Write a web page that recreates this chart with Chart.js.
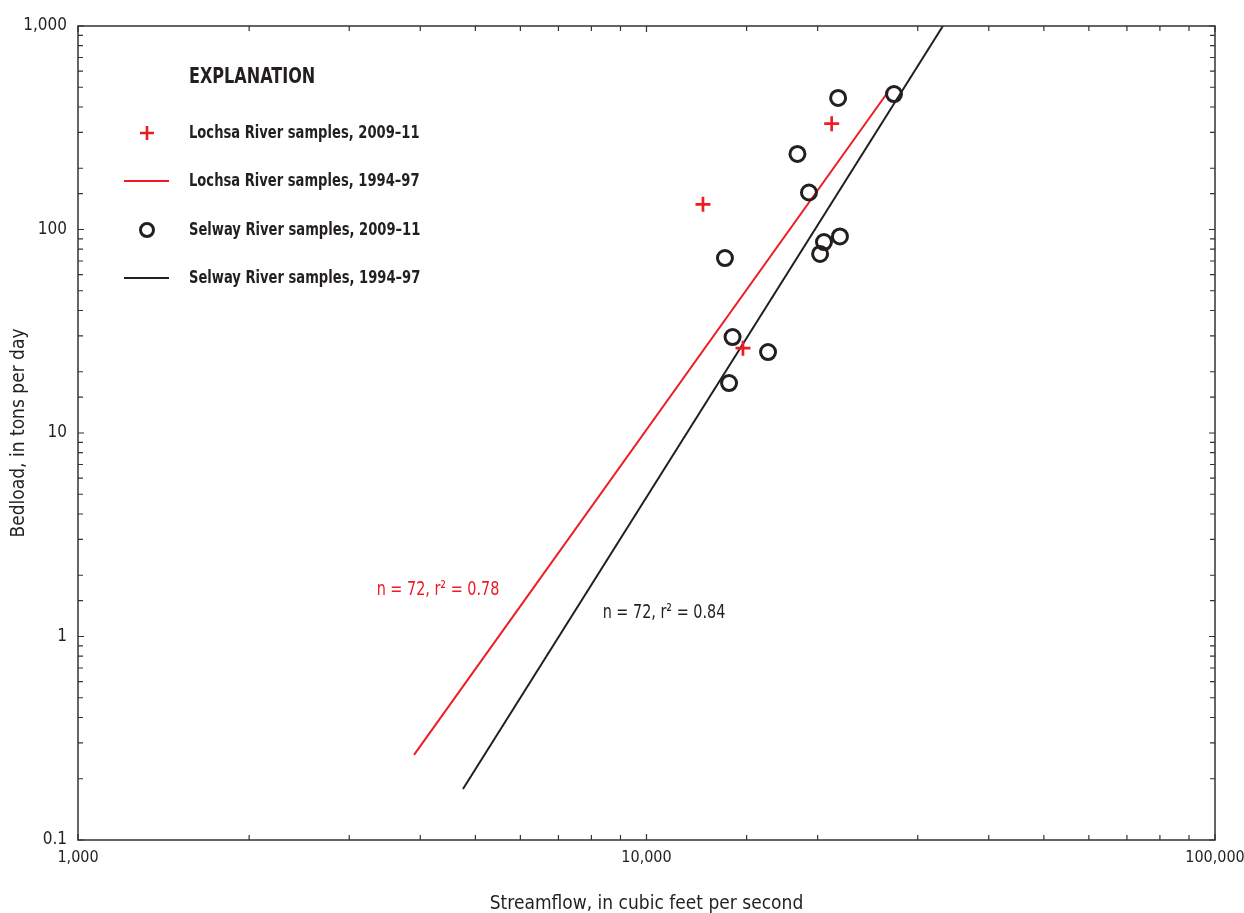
<!DOCTYPE html>
<html>
<head>
<meta charset="utf-8">
<script src="https://cdn.jsdelivr.net/npm/chart.js@4"></script>
<style>
  html, body { margin: 0; padding: 0; background: #fff; }
  #wrap { width: 1244px; height: 913px; }
</style>
</head>
<body>
<div id="wrap"><canvas id="chart" width="1244" height="913"></canvas></div>
<script>
// Data
const lochsaFlow = [21170, 12570, 14780];
const lochsaLoad = [331, 133, 26.1];
const selwayFlow = [27250, 21730, 18430, 19310, 20520, 21890, 20200, 13740, 14170, 16360, 13970];
const selwayLoad = [463, 443, 235, 152, 86.8, 92.4, 75.8, 72.4, 29.6, 25.0, 17.6];
// regression lines, 1994-97 (end points)
const lochsaFitFlow = [3900, 26590];
const lochsaFitLoad = [0.262, 474];
const selwayFitFlow = [4755, 33220];
const selwayFitLoad = [0.178, 1000];

const xTicks = [1000, 10000, 100000];
const yTicks = [0.1, 1, 10, 100, 1000];

const notes = [
  { text: "n = 72, r\u00B2 = 0.78", x: 4298, y: 1.69, color: "#ed1c24" },
  { text: "n = 72, r\u00B2 = 0.84", x: 10735, y: 1.305, color: "#231f20" },
];

const RED = "#ed1c24";
const BLACK = "#231f20";
const FONT = "'Liberation Sans Narrow', 'DejaVu Sans Condensed', sans-serif";

const toPts = (xs, ys) => xs.map((x, i) => ({ x: x, y: ys[i] }));
const isDecade = (v) => Math.abs(Math.log10(v) - Math.round(Math.log10(v))) < 1e-9;
const fmt = (v) => (v < 1 ? String(v) : v.toLocaleString("en-US"));

// condensed text: squeeze horizontally like the original type
function narrowText(ctx, str, x, y, sx, align) {
  ctx.save();
  ctx.translate(x, y);
  ctx.scale(sx, 1);
  ctx.textAlign = align || "left";
  ctx.fillText(str, 0, 0);
  ctx.restore();
}

// frame + inward ticks on all four sides
const framePlugin = {
  id: "frame",
  afterDraw(chart) {
    const { ctx, chartArea: a, scales } = chart;
    ctx.save();
    ctx.strokeStyle = "#333";
    ctx.lineWidth = 1.5;
    ctx.strokeRect(a.left, a.top, a.right - a.left, a.bottom - a.top);
    ctx.lineWidth = 1.2;
    ctx.beginPath();
    for (const t of scales.x.ticks) {
      const px = scales.x.getPixelForValue(t.value);
      const len = isDecade(t.value) ? 6 : 5;
      ctx.moveTo(px, a.bottom); ctx.lineTo(px, a.bottom - len);
      ctx.moveTo(px, a.top); ctx.lineTo(px, a.top + len);
    }
    for (const t of scales.y.ticks) {
      const py = scales.y.getPixelForValue(t.value);
      const len = isDecade(t.value) ? 6 : 5;
      ctx.moveTo(a.left, py); ctx.lineTo(a.left + len, py);
      ctx.moveTo(a.right, py); ctx.lineTo(a.right - len, py);
    }
    ctx.stroke();
    ctx.restore();
  },
};

// regression notes
const notePlugin = {
  id: "notes",
  afterDatasetsDraw(chart) {
    const { ctx, scales } = chart;
    ctx.save();
    ctx.font = "20px " + FONT;
    ctx.textBaseline = "middle";
    for (const n of notes) {
      ctx.fillStyle = n.color;
      narrowText(ctx, n.text, scales.x.getPixelForValue(n.x), scales.y.getPixelForValue(n.y), 0.8, "center");
    }
    ctx.restore();
  },
};

// the EXPLANATION box
const explanationPlugin = {
  id: "explanation",
  afterDraw(chart) {
    const { ctx, chartArea: a } = chart;
    const textX = a.left + 111;
    const symX = a.left + 69;
    ctx.save();
    ctx.fillStyle = BLACK;
    ctx.textBaseline = "middle";
    ctx.font = "bold 21px " + FONT;
    narrowText(ctx, "EXPLANATION", textX, a.top + 52, 0.85);
    ctx.font = "bold 18px " + FONT;
    const rows = [
      { label: "Lochsa River samples, 2009\u201311", kind: "cross", y: 107 },
      { label: "Lochsa River samples, 1994\u201397", kind: "redline", y: 155 },
      { label: "Selway River samples, 2009\u201311", kind: "circle", y: 204 },
      { label: "Selway River samples, 1994\u201397", kind: "blackline", y: 252 },
    ];
    for (const r of rows) {
      const y = a.top + r.y;
      ctx.fillStyle = BLACK;
      narrowText(ctx, r.label, textX, y, 0.81);
      ctx.beginPath();
      if (r.kind === "cross") {
        ctx.strokeStyle = RED; ctx.lineWidth = 2.6;
        ctx.moveTo(symX - 7, y); ctx.lineTo(symX + 7, y);
        ctx.moveTo(symX, y - 7); ctx.lineTo(symX, y + 7);
      } else if (r.kind === "circle") {
        ctx.strokeStyle = BLACK; ctx.lineWidth = 3;
        ctx.arc(symX, y, 6.5, 0, Math.PI * 2);
      } else {
        ctx.strokeStyle = r.kind === "redline" ? RED : BLACK; ctx.lineWidth = 2;
        ctx.moveTo(symX - 23, y); ctx.lineTo(symX + 22, y);
      }
      ctx.stroke();
    }
    ctx.restore();
  },
};

new Chart(document.getElementById("chart"), {
  type: "scatter",
  data: {
    datasets: [
      {
        label: "Lochsa River samples, 2009\u201311",
        data: toPts(lochsaFlow, lochsaLoad),
        pointStyle: "cross",
        pointRadius: 7.5,
        pointHoverRadius: 7.5,
        borderColor: RED,
        borderWidth: 2.7,
        order: 0,
      },
      {
        label: "Selway River samples, 2009\u201311",
        data: toPts(selwayFlow, selwayLoad),
        pointStyle: "circle",
        pointRadius: 7.5,
        pointHoverRadius: 7.5,
        backgroundColor: "rgba(0,0,0,0)",
        borderColor: BLACK,
        borderWidth: 3,
        order: 0,
      },
      {
        label: "Lochsa River samples, 1994\u201397",
        data: toPts(lochsaFitFlow, lochsaFitLoad),
        showLine: true,
        pointRadius: 0,
        borderColor: RED,
        borderWidth: 2,
        order: 1,
      },
      {
        label: "Selway River samples, 1994\u201397",
        data: toPts(selwayFitFlow, selwayFitLoad),
        showLine: true,
        pointRadius: 0,
        borderColor: BLACK,
        borderWidth: 2,
        order: 1,
      },
    ],
  },
  options: {
    responsive: false,
    animation: false,
    events: [],
    layout: { padding: { top: 26, right: 29, left: 0, bottom: 0 } },
    plugins: { legend: { display: false }, tooltip: { enabled: false } },
    scales: {
      x: {
        type: "logarithmic",
        min: 1000,
        max: 100000,
        afterFit: (s) => { s.height = 73; s.paddingLeft = 0; s.paddingRight = 0; },
        grid: { drawOnChartArea: false, drawTicks: false },
        border: { display: false },
        ticks: {
          autoSkip: false,
          maxRotation: 0,
          padding: 8,
          color: BLACK,
          font: { family: FONT, size: 16 },
          callback: (v) => (xTicks.includes(v) ? fmt(v) : ""),
        },
        title: {
          display: true,
          text: "Streamflow, in cubic feet per second",
          color: BLACK,
          font: { family: FONT, size: 19 },
          padding: { top: 0, bottom: -2 },
        },
      },
      y: {
        type: "logarithmic",
        min: 0.1,
        max: 1000,
        afterFit: (s) => { s.width = 78; s.paddingTop = 0; s.paddingBottom = 0; },
        grid: { drawOnChartArea: false, drawTicks: false },
        border: { display: false },
        ticks: {
          autoSkip: false,
          padding: 11,
          color: BLACK,
          font: { family: FONT, size: 17 },
          callback: (v) => (yTicks.some((t) => Math.abs(t - v) < 1e-9) ? fmt(v) : ""),
        },
        title: {
          display: true,
          text: "Bedload, in tons per day",
          color: BLACK,
          font: { family: FONT, size: 19 },
          padding: { top: 8, bottom: 0 },
        },
      },
    },
  },
  plugins: [framePlugin, notePlugin, explanationPlugin],
});
</script>
</body>
</html>
